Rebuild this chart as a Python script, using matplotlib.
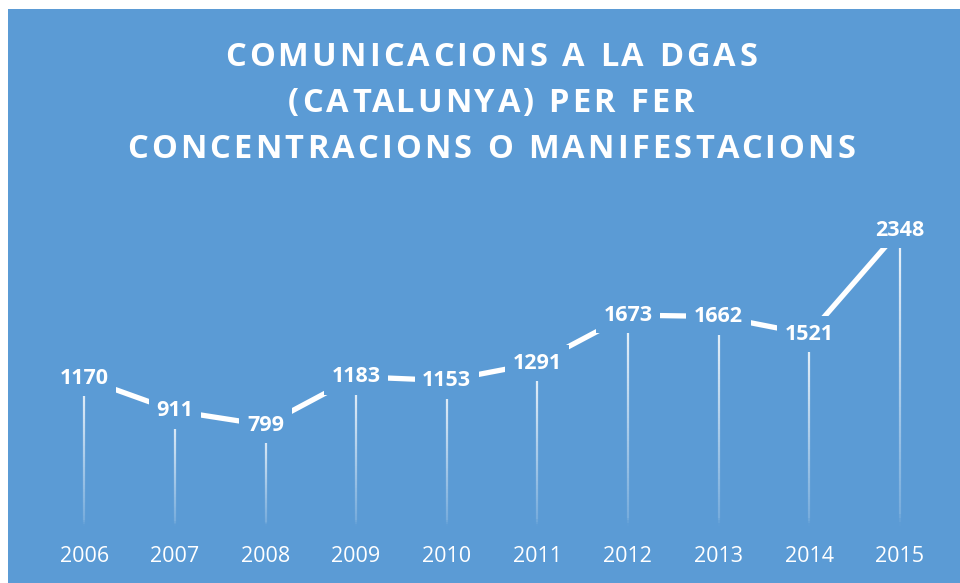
import numpy as np
import matplotlib.pyplot as plt
from matplotlib.collections import LineCollection
from matplotlib.font_manager import FontProperties

years = ['2006', '2007', '2008', '2009', '2010', '2011', '2012', '2013', '2014', '2015']
comunicacions = [1170, 911, 799, 1183, 1153, 1291, 1673, 1662, 1521, 2348]

title_lines = ['COMUNICACIONS A LA DGAS', '(CATALUNYA) PER FER', 'CONCENTRACIONS O MANIFESTACIONS']
blue = '#5b9bd5'
font = 'Open Sans'

W, H = 960, 583
fig = plt.figure(figsize=(W / 100, H / 100), dpi=100)
fig.patch.set_facecolor('white')

# fons blau
bg = fig.add_axes([8 / W, 0, 1 - 8 / W, 1 - 9 / H])
bg.set_facecolor(blue)
bg.set_xticks([])
bg.set_yticks([])
for s in bg.spines.values():
    s.set_visible(False)

ax = fig.add_axes([39 / W, 0.0985, 906 / W, 0.5395])
ax.set_facecolor('none')
x = np.arange(len(years))

# linies verticals amb degradat
for xi, v in zip(x, comunicacions):
    n = 80
    ys = np.linspace(0, v, n + 1)
    segs = [[(xi, ys[i]), (xi, ys[i + 1])] for i in range(n)]
    alphas = np.linspace(0.15, 0.9, n)
    alphas[:4] *= np.linspace(0.1, 1, 4)
    cols = [(1, 1, 1, a) for a in alphas]
    ax.add_collection(LineCollection(segs, colors=cols, linewidths=1.6, zorder=1))

ax.plot(x, comunicacions, color='white', linewidth=3.8, solid_capstyle='butt', zorder=2)

for xi, v in zip(x, comunicacions):
    ax.text(xi, v, str(v), ha='center', va='center', color='white', fontsize=15.5,
            fontweight='bold', family=font, zorder=3,
            bbox=dict(boxstyle='square,pad=0.35', facecolor=blue, edgecolor='none'))

ax.set_xlim(-0.5, len(years) - 0.5)
ax.set_ylim(0, 2500)
ax.set_xticks(x)
ax.set_xticklabels(years, color='white', fontsize=15.5, family=font)
ax.tick_params(axis='x', length=0, pad=15)
ax.set_yticks([])
for s in ax.spines.values():
    s.set_visible(False)

# titol amb espaiat entre lletres
fp = FontProperties(family=font, weight='bold', size=23.5)
renderer = fig.canvas.get_renderer()
spacing = 3.3


def wid(s):
    return renderer.get_text_width_height_descent(s, fp, ismath=False)[0] if s else 0


for line, yc in zip(title_lines, [57, 103, 150]):
    total = wid(line) + spacing * (len(line) - 1)
    x0 = 491 - total / 2
    for i, ch in enumerate(line):
        px = x0 + wid(line[:i]) + spacing * i
        fig.text(px / W, 1 - yc / H, ch, ha='left', va='center', color='white',
                 fontproperties=fp)

fig.savefig('out.png', dpi=100, facecolor=fig.get_facecolor())
